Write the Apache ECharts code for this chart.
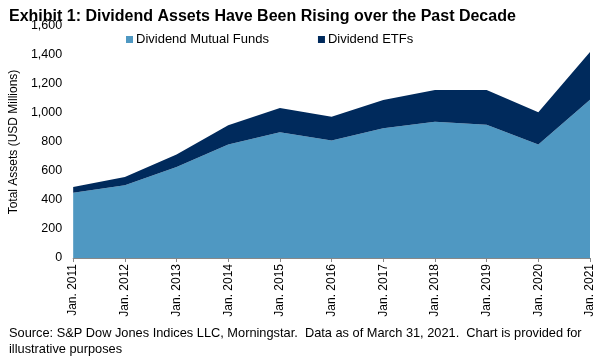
<!DOCTYPE html>
<html><head><meta charset="utf-8">
<script src="https://cdn.jsdelivr.net/npm/echarts@6/dist/echarts.min.js"></script>
<style>html,body{margin:0;padding:0;background:#fff}#c{width:605px;height:363px}</style>
</head><body><div id="c"></div>
<script>
const categories = ['Jan. 2011','Jan. 2012','Jan. 2013','Jan. 2014','Jan. 2015','Jan. 2016','Jan. 2017','Jan. 2018','Jan. 2019','Jan. 2020','Jan. 2021'];
const mutualFunds = [450, 501, 628, 783, 868, 811, 894, 940, 919, 783, 1092];
const etfs = [39, 58, 86, 132, 167, 163, 196, 219, 240, 222, 329];
const F = 'Arial, "Liberation Sans", sans-serif';
const chart = echarts.init(document.getElementById('c'));
chart.setOption({
  animation: false,
  title: [{
    text: 'Exhibit 1: Dividend Assets Have Been Rising over the Past Decade',
    left: 4, top: 4,
    textStyle: {fontFamily: F, fontSize: 16, fontWeight: 'bold', color: '#000'}
  }, {
    text: 'Source: S&P Dow Jones Indices LLC, Morningstar.  Data as of March 31, 2021.  Chart is provided for\nillustrative purposes',
    left: 4, top: 320,
    textStyle: {fontFamily: F, fontSize: 12.8, fontWeight: 'normal', color: '#000', lineHeight: 16}
  }],
  legend: {
    left: 121, top: 28, itemWidth: 7, itemHeight: 7, itemGap: 49, icon: 'rect',
    textStyle: {fontFamily: F, fontSize: 13, color: '#000', padding: [0,0,0,-2]},
    data: ['Dividend Mutual Funds', 'Dividend ETFs']
  },
  grid: {left: 70, right: 15, top: 26, bottom: 105},
  xAxis: {
    type: 'category', data: categories, boundaryGap: false,
    axisLine: {lineStyle: {color: '#888'}},
    axisTick: {alignWithLabel: true, lineStyle: {color: '#888'}, length: 4},
    axisLabel: {rotate: 90, interval: 0, fontFamily: F, fontSize: 12, color: '#000', margin: 6}
  },
  yAxis: {
    type: 'value', min: 0, max: 1600, interval: 200,
    name: 'Total Assets (USD Millions)', nameLocation: 'middle', nameGap: 52, nameRotate: 90,
    nameTextStyle: {fontFamily: F, fontSize: 12, color: '#000'},
    axisLine: {show: false}, axisTick: {show: false}, splitLine: {show: false},
    axisLabel: {fontFamily: F, fontSize: 12.5, color: '#000', margin: 11,
      formatter: v => v.toLocaleString('en-US')}
  },
  series: [{
    name: 'Dividend Mutual Funds', type: 'line', stack: 't', data: mutualFunds,
    symbol: 'none', lineStyle: {width: 0}, areaStyle: {color: '#4F98C2', opacity: 1},
    itemStyle: {color: '#4F98C2'}
  }, {
    name: 'Dividend ETFs', type: 'line', stack: 't', data: etfs,
    symbol: 'none', lineStyle: {width: 0}, areaStyle: {color: '#002A5C', opacity: 1},
    itemStyle: {color: '#002A5C'}
  }]
});
</script></body></html>
